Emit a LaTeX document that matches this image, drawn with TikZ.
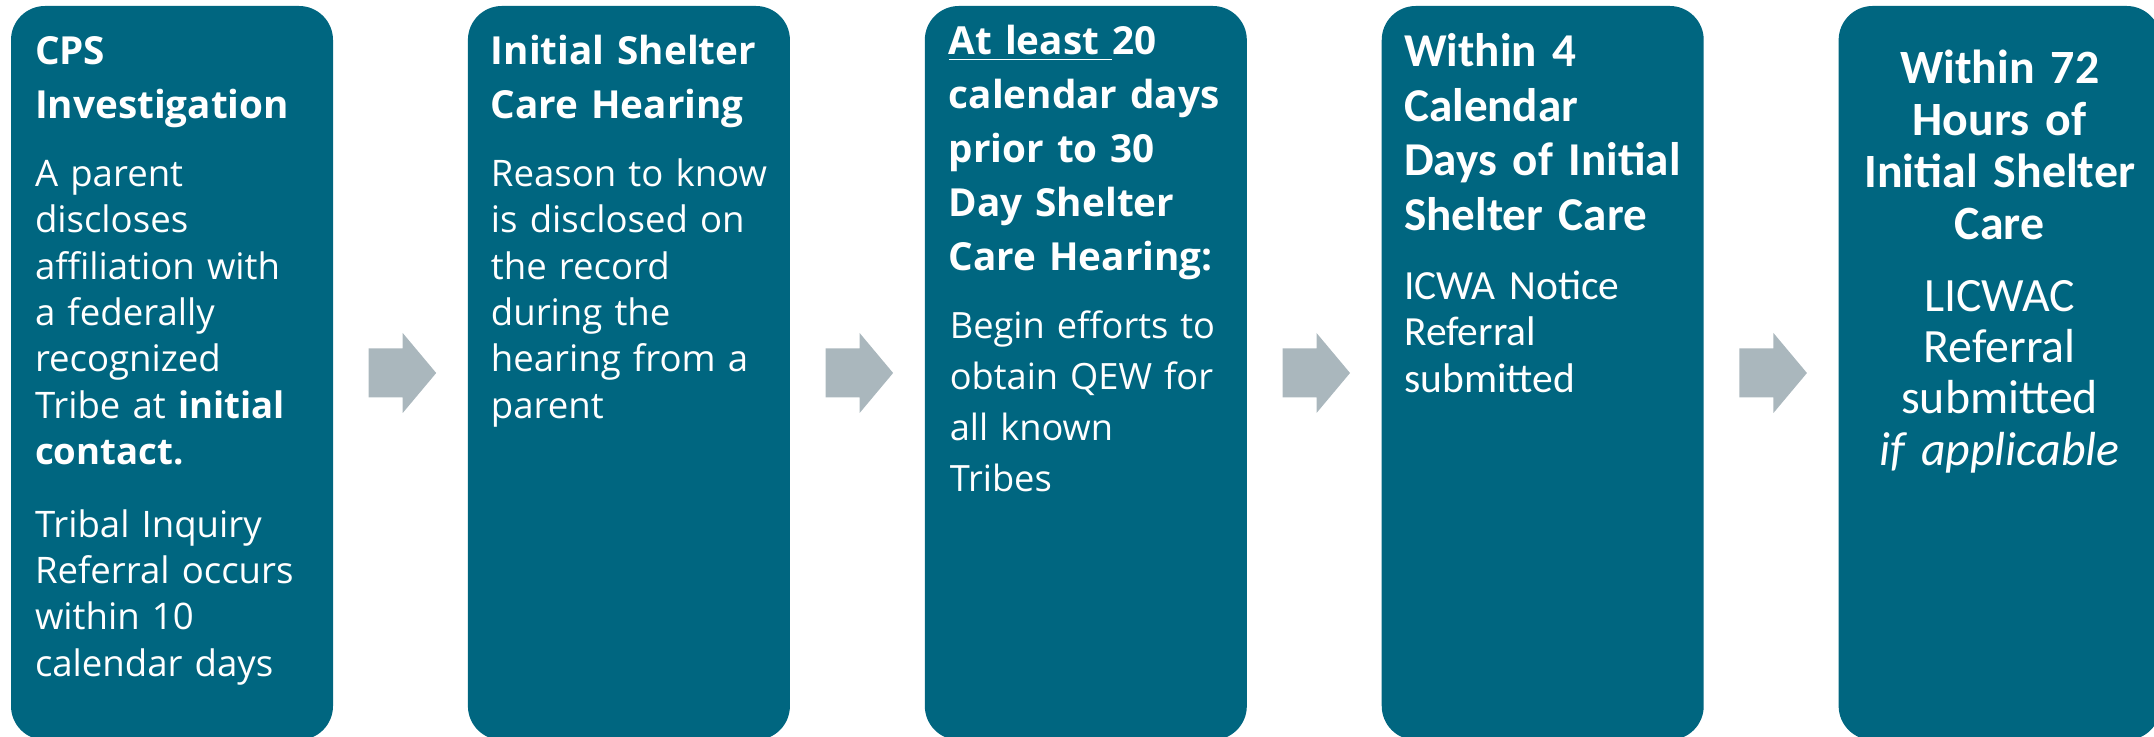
\documentclass[tikz,border=0pt]{standalone}
\usepackage{fontspec}
\newfontfamily\segoe{Open Sans}
\newfontfamily\calib{Carlito}
\usetikzlibrary{positioning,calc}
\definecolor{stepteal}{RGB}{0,102,128}
\definecolor{arrowgray}{RGB}{170,183,189}

\begin{document}
\begin{tikzpicture}
\tikzset{
    stage/.style={fill=stepteal, rounded corners=0.34cm, minimum width=3.22cm, minimum height=7.34cm, inner sep=0pt},
    head/.style={text=white, inner sep=0pt, align=left, text width=3.1cm, anchor=base west, font=\segoe\bfseries\fontsize{11}{15.4}\selectfont},
    body/.style={text=white, inner sep=0pt, align=left, text width=3.1cm, anchor=base west, font=\segoe\fontsize{10.4}{13.2}\selectfont},
    headC/.style={head, font=\calib\bfseries\fontsize{13.4}{15.6}\selectfont},
    bodyC/.style={body, font=\calib\fontsize{11.8}{13.2}\selectfont},
    flowarrow/.style={fill=arrowgray}}
\def\ashaft{0.245}
\def\ahead{0.40}

\useasboundingbox (0,0) rectangle (21.54,-7.37);

\node[stage] (b1) at (1.72,-3.73) {};
\node[stage, right=1.335cm of b1] (b2) {};
\node[stage, right=1.335cm of b2] (b3) {};
\node[stage, right=1.335cm of b3] (b4) {};
\node[stage, right=1.335cm of b4] (b5) {};

% texts
\node[head] (h1) at ($(b1.north west)+(0.24,-0.59)$) {CPS\\Investigation};
\node[body] (t1) at ($(b1.north west)+(0.24,-1.81)$) {A parent\\discloses\\affiliation with\\a federally\\recognized\\Tribe at \textbf{initial}\\\textbf{contact.}\\[7.4pt]Tribal Inquiry\\Referral occurs\\within 10\\calendar days};

\node[head] (h2) at ($(b2.north west)+(0.23,-0.59)$) {Initial Shelter\\Care Hearing};
\node[body] (t2) at ($(b2.north west)+(0.23,-1.81)$) {Reason to know\\is disclosed on\\the record\\during the\\hearing from a\\parent};

\node[head] (h3) at ($(b3.north west)+(0.24,-0.49)$) {\underline{At least\ }20\\calendar days\\prior to 30\\Day Shelter\\Care Hearing:};
\node[body, font=\segoe\fontsize{10.3}{14.5}\selectfont] (t3) at ($(b3.north west)+(0.25,-3.33)$) {Begin efforts to\\obtain QEW for\\all known\\Tribes};

\node[headC] (h4) at ($(b4.north west)+(0.225,-0.61)$) {Within 4\\Calendar\\Days of Initial\\Shelter Care};
\node[bodyC] (t4) at ($(b4.north west)+(0.225,-2.94)$) {ICWA Notice\\Referral\\submitted};

\node[headC, anchor=base, align=center, font=\calib\bfseries\fontsize{13.6}{14.8}\selectfont] (h5) at ($(b5.north)+(0,-0.78)$) {Within 72\\Hours of\\Initial Shelter\\Care};
\node[bodyC, anchor=base, align=center, font=\calib\fontsize{13.6}{14.6}\selectfont] (t5) at ($(b5.north)+(0,-3.06)$) {LICWAC\\Referral\\submitted\\\textit{if applicable}};

% arrows
\fill[flowarrow] ($(b1.east)+(0.35,\ashaft)$) -- ($(b1.east)+(0.69,\ashaft)$) -- ($(b1.east)+(0.69,\ahead)$) -- ($(b2.west)+(-0.31,0)$) -- ($(b1.east)+(0.69,-\ahead)$) -- ($(b1.east)+(0.69,-\ashaft)$) -- ($(b1.east)+(0.35,-\ashaft)$) -- cycle;
\fill[flowarrow] ($(b2.east)+(0.35,\ashaft)$) -- ($(b2.east)+(0.69,\ashaft)$) -- ($(b2.east)+(0.69,\ahead)$) -- ($(b3.west)+(-0.31,0)$) -- ($(b2.east)+(0.69,-\ahead)$) -- ($(b2.east)+(0.69,-\ashaft)$) -- ($(b2.east)+(0.35,-\ashaft)$) -- cycle;
\fill[flowarrow] ($(b3.east)+(0.35,\ashaft)$) -- ($(b3.east)+(0.69,\ashaft)$) -- ($(b3.east)+(0.69,\ahead)$) -- ($(b4.west)+(-0.31,0)$) -- ($(b3.east)+(0.69,-\ahead)$) -- ($(b3.east)+(0.69,-\ashaft)$) -- ($(b3.east)+(0.35,-\ashaft)$) -- cycle;
\fill[flowarrow] ($(b4.east)+(0.35,\ashaft)$) -- ($(b4.east)+(0.69,\ashaft)$) -- ($(b4.east)+(0.69,\ahead)$) -- ($(b5.west)+(-0.31,0)$) -- ($(b4.east)+(0.69,-\ahead)$) -- ($(b4.east)+(0.69,-\ashaft)$) -- ($(b4.east)+(0.35,-\ashaft)$) -- cycle;
\end{tikzpicture}
\end{document}
